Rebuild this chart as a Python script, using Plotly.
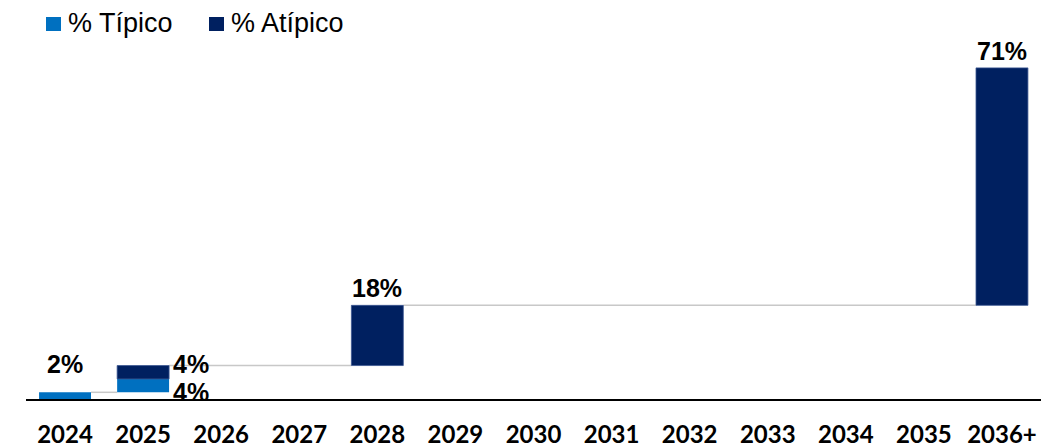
import plotly.graph_objects as go

# Calendar buckets and the share of each bucket, split by type
categories = ["2024", "2025", "2026", "2027", "2028", "2029", "2030",
              "2031", "2032", "2033", "2034", "2035", "2036+"]
series_names = ["% Típico", "% Atípico"]
tipico = [2, 4, 0, 0, 0, 0, 0, 0, 0, 0, 0, 0, 0]
atipico = [0, 4, 0, 0, 18, 0, 0, 0, 0, 0, 0, 0, 71]

COLOR_TIP = "#0070C0"
COLOR_ATIP = "#002060"
BAR_W = 0.665
LABEL_FONT = dict(family="Liberation Sans, Arial", size=25, color="black")

W, H = 1041, 447
M_L, M_R, M_T, M_B = 26, 0, 0, 48
PLOT_W = W - M_L - M_R
PLOT_H = H - M_T - M_B

# Running totals: each bucket starts where the previous one ended
starts, ends = [], []
acc = 0
for t, a in zip(tipico, atipico):
    starts.append(acc)
    acc += t + a
    ends.append(acc)

fig = go.Figure()
fig.add_trace(go.Bar(
    name=series_names[0], x=categories,
    y=[v if v else None for v in tipico],
    base=starts, width=BAR_W,
    marker=dict(color=COLOR_TIP, line=dict(width=0)),
))
fig.add_trace(go.Bar(
    name=series_names[1], x=categories,
    y=[v if v else None for v in atipico],
    base=[s + t for s, t in zip(starts, tipico)], width=BAR_W,
    marker=dict(color=COLOR_ATIP, line=dict(color="#3a5690", width=0.8)),
))

# Connector lines between consecutive non-empty buckets
filled = [i for i in range(len(categories)) if tipico[i] + atipico[i] > 0]
for j, k in zip(filled[:-1], filled[1:]):
    fig.add_shape(type="line", xref="x", yref="y",
                  x0=j + BAR_W / 2, x1=k - BAR_W / 2,
                  y0=ends[j], y1=ends[j],
                  line=dict(color="#C8C8C8", width=1.5), layer="below")

# Value labels
annotations = []
for i in range(len(categories)):
    t, a = tipico[i], atipico[i]
    if t and a:
        # stacked bucket: labels sit to the right of the bar
        annotations.append(dict(x=i + BAR_W / 2, y=starts[i] + t / 2,
                                text=f"<b>{t}%</b>", xanchor="left",
                                yanchor="middle", yshift=-6, xshift=2))
        annotations.append(dict(x=i + BAR_W / 2, y=ends[i],
                                text=f"<b>{a}%</b>", xanchor="left",
                                yanchor="middle", yshift=2, xshift=2))
    elif t or a:
        v = t or a
        shift = 12 if v < 5 else 1
        annotations.append(dict(x=i, y=ends[i], text=f"<b>{v}%</b>",
                                xanchor="center", yanchor="bottom",
                                yshift=shift))
for ann in annotations:
    fig.add_annotation(xref="x", yref="y", showarrow=False,
                       font=LABEL_FONT, **ann)


def px_x(p):
    return (p - M_L) / PLOT_W


def px_y(p):
    return (H - M_B - p) / PLOT_H


# Legend: colour swatch followed by the series name
legend_items = [(series_names[0], COLOR_TIP, 46),
                (series_names[1], COLOR_ATIP, 209)]
for name, color, left in legend_items:
    fig.add_shape(type="rect", xref="paper", yref="paper",
                  x0=px_x(left), x1=px_x(left + 15),
                  y0=px_y(31), y1=px_y(17),
                  fillcolor=color, line=dict(width=0))
    fig.add_annotation(xref="paper", yref="paper", showarrow=False,
                       x=px_x(left + 20), y=px_y(23),
                       xanchor="left", yanchor="middle", text=name,
                       font=dict(family="Liberation Sans, Arial", size=27,
                                 color="black"))

fig.update_layout(
    width=W, height=H,
    margin=dict(l=M_L, r=M_R, t=M_T, b=M_B),
    barmode="overlay",
    plot_bgcolor="white", paper_bgcolor="white",
    showlegend=False,
    xaxis=dict(type="category", range=[-0.5, len(categories) - 0.5],
               showline=True, linecolor="black", linewidth=2,
               ticks="", showgrid=False, ticklabelstandoff=13,
               automargin=False,
               tickfont=dict(family="Lato", size=24, color="black",
                             weight="bold")),
    yaxis=dict(range=[0, 119.3], visible=False, showgrid=False,
               automargin=False),
)

fig.write_html("out.html")
